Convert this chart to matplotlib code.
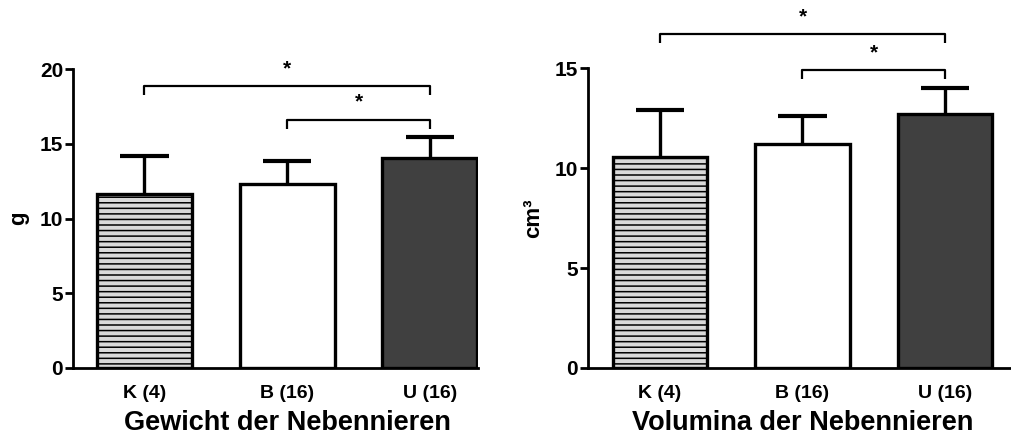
import matplotlib
matplotlib.use("Agg")
import matplotlib.pyplot as plt

plt.rcParams['font.family'] = ['Liberation Sans', 'DejaVu Sans']
plt.rcParams['font.weight'] = 'bold'
plt.rcParams['hatch.linewidth'] = 1.1
plt.rcParams['hatch.color'] = 'black'

# data
groups = ["K (4)", "B (16)", "U (16)"]
weight_mean = [11.65, 12.3, 14.05]
weight_sem = [2.55, 1.55, 1.4]
volume_mean = [10.55, 11.2, 12.7]
volume_sem = [2.35, 1.4, 1.3]

weight_ticks = [0, 5, 10, 15, 20]
volume_ticks = [0, 5, 10, 15]

# significance brackets: (from, to, height, drop)
weight_brackets = [(0, 2, 18.85, 0.6), (1, 2, 16.6, 0.6)]
volume_brackets = [(0, 2, 16.7, 0.45), (1, 2, 14.9, 0.45)]

FACES = ['#d9d9d9', 'white', '#404040']
HATCHES = ['---', '', '']
BAR_W = 0.665
CAP_W = 0.17


def draw_panel(ax, means, sems, ticks, brackets, ylabel, xlabel, xlim):
    x = list(range(len(groups)))
    tops = [m + s for m, s in zip(means, sems)]
    # upper error bars only
    ax.vlines(x, means, tops, color='black', lw=2.4, zorder=1)
    ax.hlines(tops, [i - CAP_W for i in x], [i + CAP_W for i in x],
              color='black', lw=3, zorder=1)
    ax.bar(x, means, width=BAR_W, color=FACES, edgecolor='black', linewidth=2.4,
           hatch=HATCHES, zorder=2)
    ax.set_xlim(*xlim)
    ax.set_ylim(0, ticks[-1])
    ax.set_yticks(ticks)
    ax.set_xticks(x)
    ax.set_xticklabels(groups, fontsize=14, fontweight='bold')
    ax.tick_params(axis='x', length=0, pad=12)
    ax.tick_params(axis='y', length=6, width=2, labelsize=15, pad=1)
    for lab in ax.get_yticklabels():
        lab.set_fontweight('bold')
    for s in ['top', 'right']:
        ax.spines[s].set_visible(False)
    ax.spines['left'].set_linewidth(2)
    ax.spines['bottom'].set_linewidth(2)
    ax.set_ylabel(ylabel, fontsize=16, fontweight='bold', labelpad=8)
    ax.set_xlabel(xlabel, fontsize=19.5, fontweight='bold')
    ax.xaxis.set_label_coords((1 - xlim[0]) / (xlim[1] - xlim[0]), -0.14)
    for a, b, h, d in brackets:
        ax.plot([a, a, b, b], [h - d, h, h, h - d], color='black', lw=1.6,
                clip_on=False, solid_capstyle='butt')
        ax.text((a + b) / 2, h + d * 0.9, '*', ha='center', va='bottom',
                fontsize=15, fontweight='bold', clip_on=False)


fig = plt.figure(figsize=(10.12, 4.37), dpi=100)
ax1 = fig.add_axes([0.0721, 0.158, 0.400, 0.684])
ax2 = fig.add_axes([0.581, 0.158, 0.419, 0.686])

draw_panel(ax1, weight_mean, weight_sem, weight_ticks, weight_brackets,
           'g', 'Gewicht der Nebennieren', (-0.5, 2.335))
draw_panel(ax2, volume_mean, volume_sem, volume_ticks, volume_brackets,
           'cm³', 'Volumina der Nebennieren', (-0.505, 2.47))

fig.savefig('out.png', dpi=100)
